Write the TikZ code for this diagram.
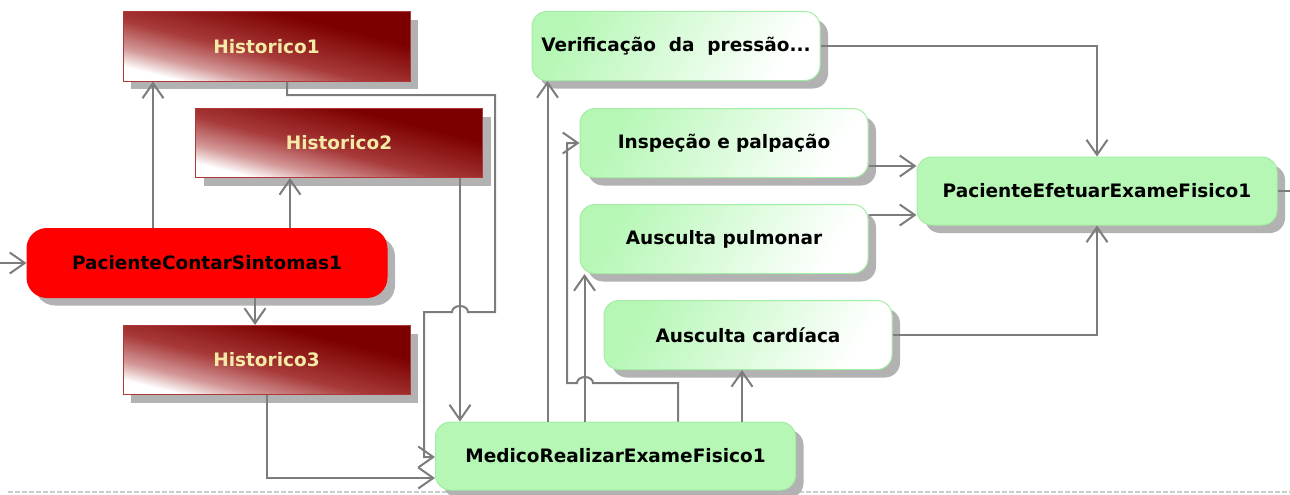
\documentclass[tikz,border=0pt]{standalone}
\usepackage{fontspec}
\setmainfont{DejaVu Sans}
\usetikzlibrary{positioning, calc, arrows.meta, shadows}

\definecolor{histdark}{HTML}{7C0000}
\definecolor{histmid}{HTML}{A83A3A}
\definecolor{histpink}{HTML}{D49898}
\definecolor{histline}{HTML}{B03838}
\definecolor{histtext}{HTML}{F4EAA6}
\definecolor{nodegreen}{HTML}{B6F7B6}
\definecolor{greenline}{HTML}{A4EDA4}
\definecolor{linegray}{HTML}{7C7C7C}
\definecolor{shadowgray}{HTML}{B2B2B2}

\pgfdeclareverticalshading{histshade}{100bp}{color(0bp)=(white); color(26bp)=(white);
    color(34bp)=(histpink); color(46bp)=(histmid); color(66bp)=(histdark); color(100bp)=(histdark)}

\begin{document}
\begin{tikzpicture}[x=1pt, y=-1pt, line width=2pt,
    flow/.style={-{Straight Barb[length=15pt,width=21pt]}, draw=linegray},
    box/.style={minimum height=69pt, inner sep=0pt, line width=1pt,
        font=\bfseries\fontsize{18.5}{20}\selectfont,
        drop shadow={shadow xshift=8pt, shadow yshift=-8pt, fill=shadowgray, opacity=1}},
    hist/.style={box, rectangle, minimum width=287pt, draw=histline,
        shading=histshade, shading angle=-14, text=histtext},
    redbox/.style={box, rounded corners=20pt, minimum width=360pt, fill=red, draw=red},
    greenbox/.style={box, rounded corners=15pt, minimum width=288pt, draw=greenline,
        left color=nodegreen, right color=white, shading angle=60},
    solidgreen/.style={box, rounded corners=15pt, minimum width=360pt, minimum height=68pt,
        fill=nodegreen, draw=greenline}]

    \useasboundingbox (0,0) rectangle (1290,495);

    % --- Bottom separator ---
    \draw[gray!40, line width=1.5pt, dash pattern=on 5pt off 2pt] (8,492) -- (1290,492);

    % --- Left column: patient and history ---
    \node[hist] (H1) at (266.5,46.5) {Historico1};
    \node[hist] (H2) at (339,143) {Historico2};
    \node[redbox] (PCS) at (207,263) {PacienteContarSintomas1};
    \node[hist] (H3) at (266.5,360) {Historico3};

    % --- Physician and exam steps ---
    \node[solidgreen] (MED) at (615.5,456) {MedicoRealizarExameFisico1};
    \node[greenbox] (VER) at (676,46) {Verificação\ \ da\ \ pressão...};
    \node[greenbox] (INS) at (724,143) {Inspeção e palpação};
    \node[greenbox] (AP) at (724,239) {Ausculta pulmonar};
    \node[greenbox] (AC) at (748,335) {Ausculta cardíaca};
    \node[solidgreen] (PEF) at (1097,191) {PacienteEfetuarExameFisico1};

    \coordinate (in) at (0,263);
    \coordinate (out) at (1290,191);

    % --- Connectors around PacienteContarSintomas1 ---
    \draw[flow] (in) -- (PCS.west);
    \draw[flow] ([xshift=-54pt]PCS.north) -- ([xshift=-54pt]PCS.north |- H1.south);
    \draw[flow] ([xshift=83pt]PCS.north) -- ([xshift=83pt]PCS.north |- H2.south);
    \draw[flow] ([xshift=48pt]PCS.south) -- ([xshift=48pt]PCS.south |- H3.north);

    % --- History into MedicoRealizarExameFisico1 ---
    \draw[flow] ([xshift=20.5pt]H1.south) -- (287,95) -- (495,95) -- (495,312)
        -- (468,312) arc[start angle=0, end angle=180, x radius=8pt, y radius=6pt]
        -- (424,312) -- (424,457) -- (MED.west |- 0,457);
    \draw[flow] ([xshift=121pt]H2.south) -- ([xshift=121pt]H2.south |- MED.north);
    \draw[flow] ([xshift=0.5pt]H3.south) -- (267,478) -- (MED.west |- 0,478);

    % --- MedicoRealizarExameFisico1 to the exam steps ---
    \draw[flow] ([xshift=16pt]VER.south west |- MED.north) -- ([xshift=16pt]VER.south west);
    \draw[flow] ([xshift=5pt]AP.south west |- MED.north) -- ([xshift=5pt]AP.south west);
    \draw[flow] ([xshift=62.5pt]MED.north) -- (678,383)
        -- (593,383) arc[start angle=0, end angle=180, x radius=8pt, y radius=6pt]
        -- (567,383) -- (567,0 |- INS.west) -- (INS.west);
    \draw[flow] ([xshift=-6pt]AC.south |- MED.north) -- ([xshift=-6pt]AC.south);

    % --- Exam steps into PacienteEfetuarExameFisico1 ---
    \draw[flow] (VER.east) -- (VER.east -| PEF.north) -- (PEF.north);
    \draw[flow] ([yshift=-23pt]INS.east) -- ([yshift=-23pt]INS.east -| PEF.west);
    \draw[flow] ([yshift=24pt]AP.east) -- ([yshift=24pt]AP.east -| PEF.west);
    \draw[flow] (AC.east) -- (AC.east -| PEF.south) -- (PEF.south);
    \draw[linegray] (PEF.east) -- (out);

\end{tikzpicture}
\end{document}
